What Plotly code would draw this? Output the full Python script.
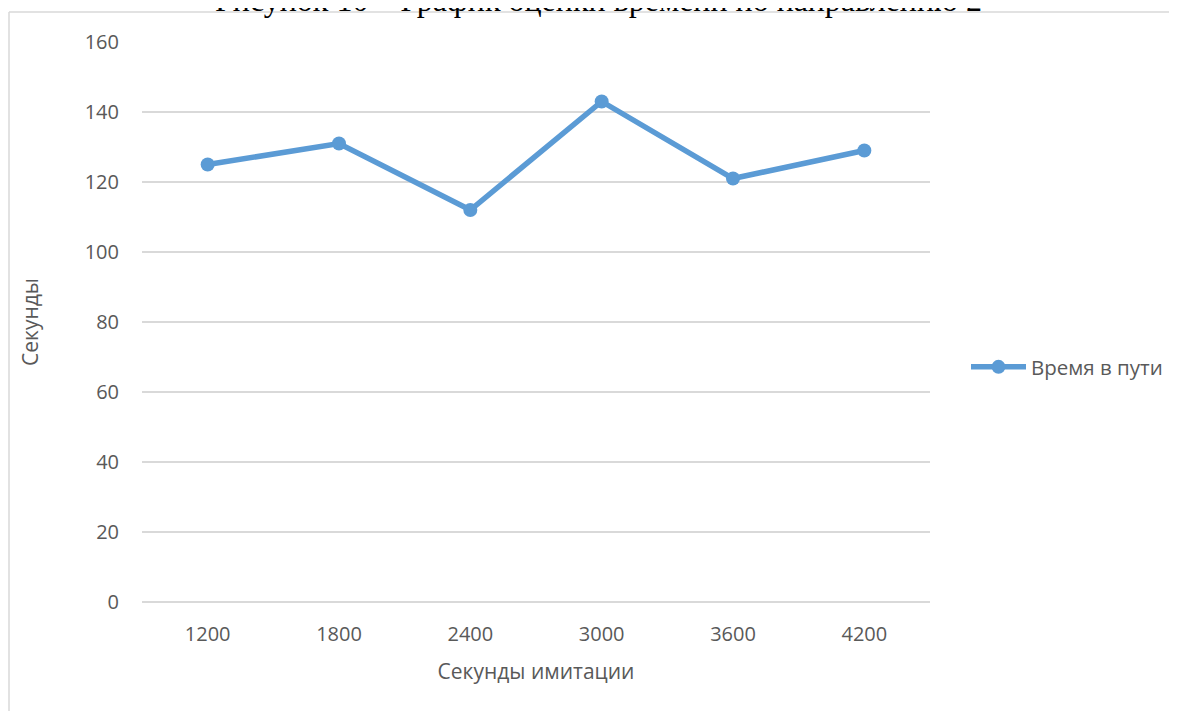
import plotly.graph_objects as go

categories = ["1200", "1800", "2400", "3000", "3600", "4200"]
travel_time = [125, 131, 112, 143, 121, 129]
y_ticks = [0, 20, 40, 60, 80, 100, 120, 140, 160]
series_name = "Время в пути"
caption = "Рисунок 10 – График оценки времени по направлению 2"
x_title = "Секунды имитации"
y_title = "Секунды"

OFF = 8  # page body margin
W, H = 1177 - OFF, 711 - OFF
# plot area in page px
L, R, T, B = 142, 930, 42, 602


def px(x):
    return (x - L) / (R - L)


def py(y):
    return (B - y) / (B - T)


grey = "#595959"
blue = "#5B9BD5"
font_family = "Open Sans"

fig = go.Figure()
fig.add_trace(go.Scatter(
    x=categories, y=travel_time, name=series_name, mode="lines+markers",
    line=dict(color=blue, width=5.5),
    marker=dict(color=blue, size=14),
    showlegend=True,
))

fig.update_layout(
    width=W, height=H,
    margin=dict(l=L - OFF, r=W - (R - OFF), t=T - OFF, b=H - (B - OFF), pad=0,
                autoexpand=False),
    paper_bgcolor="white", plot_bgcolor="white",
    font=dict(family=font_family, color=grey, size=20),
    showlegend=True,
    legend=dict(x=px(966), y=py(367), xanchor="left", yanchor="middle",
                font=dict(size=20.5, color=grey), itemwidth=55,
                bgcolor="rgba(0,0,0,0)"),
    xaxis=dict(type="category", range=[-0.5, 5.5], showgrid=False,
               showline=False, zeroline=False, ticks="",
               ticklabelstandoff=18,
               title=dict(text=x_title, font=dict(size=21, color=grey), standoff=18),
               tickfont=dict(size=20, color=grey)),
    yaxis=dict(range=[0, 160], tickvals=y_ticks, showgrid=True,
               gridcolor="#D9D9D9", gridwidth=1.5, zeroline=True,
               zerolinecolor="#D9D9D9", zerolinewidth=1.5,
               showline=False, ticks="", ticklabelstandoff=22,
               title=dict(text=y_title, font=dict(size=21, color=grey), standoff=40),
               tickfont=dict(size=20, color=grey)),
    shapes=[
        dict(type="line", xref="paper", yref="paper", x0=px(9), x1=px(1200),
             y0=py(12), y1=py(12), line=dict(color="#D9D9D9", width=1.5)),
        dict(type="line", xref="paper", yref="paper", x0=px(9), x1=px(9),
             y0=py(12), y1=py(720), line=dict(color="#D9D9D9", width=1.5)),
    ],
    annotations=[
        dict(text=caption, xref="paper", yref="paper", x=px(598), y=py(20.5),
             xanchor="center", yanchor="bottom", showarrow=False,
             font=dict(family="Liberation Serif", size=32, color="black")),
    ],
)

fig.write_html("out.html", config={"displayModeBar": False})
